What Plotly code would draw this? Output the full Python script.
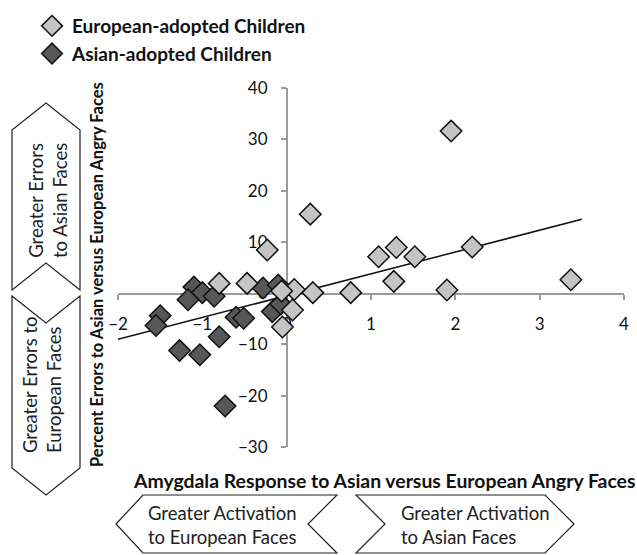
import plotly.graph_objects as go

W, H = 637, 555

# ---------------- data ----------------
euro_x = [1.95, 2.20, 1.52, 1.30, 1.09, 1.27, 1.90, 3.37, 0.76, 0.28, 0.31, 0.09, 0.07, -0.05, -0.23, -0.80, -0.47, -0.06]
euro_y = [31.6, 9.0, 7.1, 8.9, 7.1, 2.3, 0.6, 2.6, 0.1, 15.4, 0.1, 0.7, -3.3, -6.6, 8.4, 1.9, 1.9, 0.4]

asian_x = [-1.10, -1.00, -1.17, -0.86, -1.50, -1.55, -0.60, -0.51, -0.80, -1.27, -1.03, -0.73, -0.28, -0.10, -0.17, -0.07]
asian_y = [1.2, 0.1, -1.3, -0.6, -4.4, -6.3, -4.7, -4.9, -8.5, -11.2, -12.0, -22.0, 1.0, 1.6, -3.6, -2.1]

trend_x = [-2.0, 3.5]
trend_y = [-9.0, 14.4]

x_ticks = [-2, -1, 0, 1, 2, 3, 4]
y_ticks = [-30, -20, -10, 0, 10, 20, 30, 40]

series_names = ["European-adopted Children", "Asian-adopted Children"]
x_title = "Amygdala Response to Asian versus European Angry Faces"
y_title = "Percent Errors to Asian versus European Angry Faces"
arrow_texts = ["Greater Errors<br>to Asian Faces", "Greater Errors to<br>European Faces",
               "Greater Activation<br>to European Faces", "Greater Activation<br>to Asian Faces"]

# ---------------- layout helpers (pixels -> paper) ----------------
def px(p):
    return p / W

def py(p):
    return 1 - p / H

FONT = "Lato"
light, dark = "#c4c4c4", "#575757"

fig = go.Figure()
fig.add_trace(go.Scatter(x=trend_x, y=trend_y, mode="lines", line=dict(color="#111", width=1.5),
                         showlegend=False, hoverinfo="skip"))
fig.add_trace(go.Scatter(x=asian_x, y=asian_y, mode="markers", name=series_names[1],
                         marker=dict(symbol="diamond", size=16.5, color=dark,
                                     line=dict(color="#111", width=1.5))))
fig.add_trace(go.Scatter(x=euro_x, y=euro_y, mode="markers", name=series_names[0],
                         marker=dict(symbol="diamond", size=16.5, color=light,
                                     line=dict(color="#111", width=1.5))))

axis_common = dict(showgrid=False, zeroline=False, showline=True, linecolor="#9a9a9a", linewidth=2,
                   ticks="outside", ticklen=5, tickcolor="#9a9a9a", tickwidth=1.5,
                   tickfont=dict(family=FONT, size=17, color="#111"), layer="below traces",
                   automargin=False)

fig.update_layout(
    width=W, height=H, margin=dict(l=0, r=0, t=0, b=0, pad=0, autoexpand=False),
    paper_bgcolor="white", plot_bgcolor="white",
    xaxis=dict(domain=[px(118), px(624)], range=[-2, 4], tickvals=x_ticks,
               anchor="free", position=py(294), ticklabelstandoff=10, **axis_common),
    yaxis=dict(domain=[py(447), py(88)], range=[-30, 40], tickvals=y_ticks,
               anchor="free", position=px(287), ticklabelstandoff=10, **axis_common),
    legend=dict(x=px(32), y=py(7), xanchor="left", yanchor="top", traceorder="reversed",
                font=dict(family=FONT, size=19, color="#111", weight="bold"),
                bgcolor="rgba(0,0,0,0)", itemsizing="trace", tracegroupgap=0),
    showlegend=True,
)

ann = dict(xref="paper", yref="paper", showarrow=False, xanchor="center", yanchor="middle")

# axis titles
fig.add_annotation(x=px(384), y=py(480), text="<b>" + x_title + "</b>",
                   font=dict(family=FONT, size=19.4, color="#111"), **ann)
fig.add_annotation(x=px(97), y=py(275), text="<b>" + y_title + "</b>",
                   textangle=-90, font=dict(family=FONT, size=16.5, color="#111"), **ann)

# arrow shapes
def path(points):
    s = "M " + " L ".join(f"{px(a):.5f},{py(b):.5f}" for a, b in points) + " Z"
    return s

arrows = [
    [(46, 103), (80, 130), (80, 290), (46, 263), (12, 290), (12, 130)],            # up
    [(12, 296), (46, 323), (80, 296), (80, 468), (46, 495), (12, 468)],            # down
    [(116, 524), (143, 495), (337, 495), (308, 524), (337, 553), (143, 553)],      # left
    [(356, 495), (545, 495), (574, 524), (545, 553), (356, 553), (385, 524)],      # right
]
for pts in arrows:
    fig.add_shape(type="path", path=path(pts), xref="paper", yref="paper",
                  line=dict(color="#222", width=1.2), fillcolor="white")

afont = dict(family=FONT, size=18.5, color="#222")
fig.add_annotation(x=px(48), y=py(200), text=arrow_texts[0], textangle=-90, font=afont,
                   align="center", **ann)
fig.add_annotation(x=px(42), y=py(385), text=arrow_texts[1], textangle=-90, font=afont,
                   align="left", **ann)
a3 = dict(ann, xanchor="left")
fig.add_annotation(x=px(146), y=py(525), text=arrow_texts[2], font=afont, align="left", **a3)
fig.add_annotation(x=px(399), y=py(525), text=arrow_texts[3], font=afont, align="left", **a3)

fig.write_html("out.html", config={"displayModeBar": False},
               post_script="document.body.style.margin='0';")
